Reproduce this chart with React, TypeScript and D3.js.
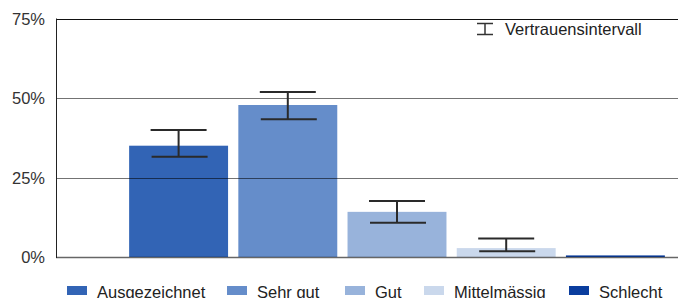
import React from "react";
import * as d3 from "d3";

const categories = ["Ausgezeichnet", "Sehr gut", "Gut", "Mittelmässig", "Schlecht"];
const values = [35, 47.8, 14.2, 2.8, 0.5];
const ciLow: (number | null)[] = [31.5, 43.3, 10.8, 1.8, null];
const ciHigh: (number | null)[] = [39.9, 51.9, 17.6, 5.8, null];
const colors = ["#3264b5", "#658dca", "#98b3db", "#cad8ec", "#0a3d9e"];
const yTicks = [0, 25, 50, 75];
const ciLabel = "Vertrauensintervall";
const legendX = [67, 227, 345, 424, 569];

const W = 678;
const H = 298;
const FONT = "'Liberation Sans', Arial, sans-serif";
const FS = 16.5;

export default function App() {
  const left = 56;
  const right = 678;
  const y = d3.scaleLinear().domain([0, 75]).range([257, 18.5]);
  const x = d3
    .scaleBand<string>()
    .domain(categories)
    .range([124, 670])
    .paddingInner(0.094)
    .paddingOuter(0.047);
  const capW = 56;

  return (
    <svg
      width={W}
      height={H}
      style={{ position: "absolute", left: 0, top: 0, fontFamily: FONT }}
    >
      <rect x={0} y={0} width={W} height={H} fill="#fff" />
      {categories.map((c, i) => (
        <rect
          key={c}
          x={x(c)}
          y={y(values[i])}
          width={x.bandwidth()}
          height={y(0) - y(values[i])}
          fill={colors[i]}
        />
      ))}
      {yTicks.map((t) => (
        <line
          key={t}
          x1={left}
          x2={right}
          y1={Math.round(y(t)) + 0.5}
          y2={Math.round(y(t)) + 0.5}
          stroke={t === 75 ? "#111" : "#000"}
          strokeOpacity={t === 75 ? 1 : t === 0 ? 0.6 : 0.55}
          strokeWidth={t === 0 ? 1.5 : 1}
        />
      ))}
      <line x1={left + 0.5} x2={left + 0.5} y1={y(75)} y2={y(0) + 1} stroke="#222" strokeWidth={1} />
      {yTicks.map((t) => (
        <text
          key={"l" + t}
          x={45}
          y={y(t)}
          textAnchor="end"
          dominantBaseline="central"
          fontSize={FS}
          fill="#333"
        >
          {t + "%"}
        </text>
      ))}
      {categories.map((c, i) => {
        const lo = ciLow[i];
        const hi = ciHigh[i];
        if (lo == null || hi == null) return null;
        const cx = (x(c) as number) + x.bandwidth() / 2;
        return (
          <g key={"e" + c} stroke="#2a2a2a" strokeWidth={2}>
            <line x1={cx} x2={cx} y1={y(hi)} y2={y(lo)} />
            <line x1={cx - capW / 2} x2={cx + capW / 2} y1={y(hi)} y2={y(hi)} />
            <line x1={cx - capW / 2 + 1} x2={cx + capW / 2 + 1} y1={y(lo)} y2={y(lo)} />
          </g>
        );
      })}
      <g stroke="#333" strokeWidth={1.5}>
        <line x1={477} x2={493} y1={23.5} y2={23.5} />
        <line x1={485} x2={485} y1={23.5} y2={34.5} />
        <line x1={477} x2={493} y1={34.5} y2={34.5} />
      </g>
      <text x={505} y={35} fontSize={FS} fill="#222">
        {ciLabel}
      </text>
      {categories.map((c, i) => (
        <g key={"lg" + c}>
          <rect x={legendX[i]} y={286} width={20} height={9} fill={colors[i]} />
          <text x={legendX[i] + 30} y={297.5} fontSize={FS} fill="#222">
            {c}
          </text>
        </g>
      ))}
    </svg>
  );
}
